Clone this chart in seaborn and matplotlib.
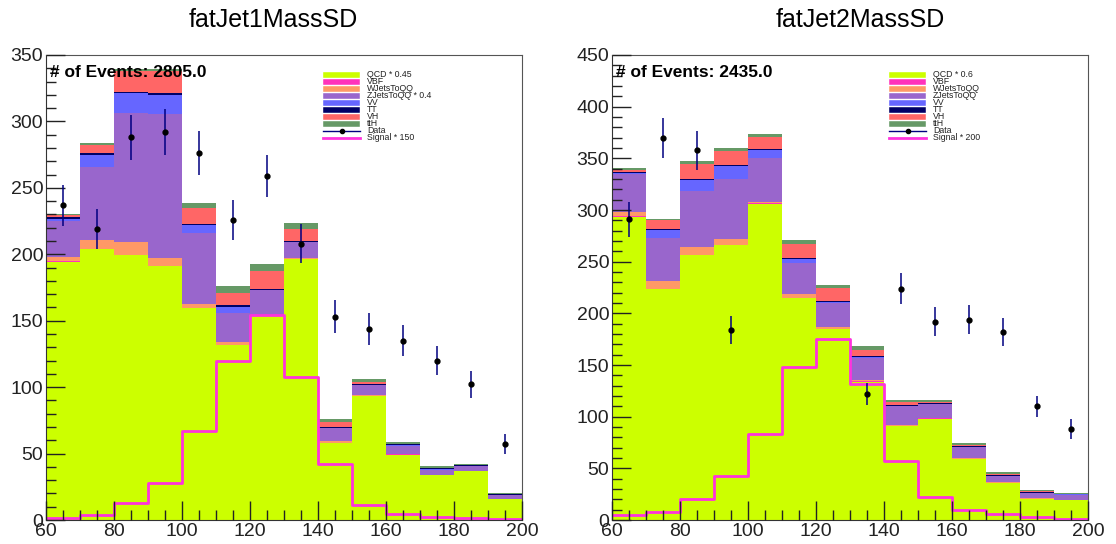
import numpy as np
import pandas as pd
import matplotlib
matplotlib.use('Agg')
import matplotlib.pyplot as plt
from matplotlib.patches import Rectangle
from matplotlib.ticker import MultipleLocator
import seaborn as sns

plt.rcParams['font.family'] = ['Liberation Sans', 'DejaVu Sans']

# bins de massa (GeV)
edges = list(range(60, 201, 10))
centers = np.array(edges[:-1]) + 5

processes = ['QCD', 'VBF', 'WJetsToQQ', 'ZJetsToQQ', 'VV', 'TT', 'VH', 'ttH']
colors = ['#ccff00', '#ff33bb', '#ff9966', '#9966cc', '#6666ff', '#000066', '#ff6666', '#669966']

# ---- fatJet1MassSD ----
j1_qcd = [194.4, 204.0, 199.5, 191.2, 159.4, 131.4, 153.3, 196.2, 57.6, 93.6, 49.3, 33.6, 36.8, 15.5]
j1_vbf = [0.3, 0.3, 0.3, 0.3, 0.3, 0.3, 0.3, 0.2, 0.2, 0.1, 0.1, 0.1, 0.1, 0.1]
j1_wjets = [3.0, 6.4, 9.7, 5.7, 3.0, 2.2, 1.0, 0.8, 2.0, 0.3, 0.3, 0.3, 0.3, 0.2]
j1_zjets = [27.5, 55.1, 96.8, 108.6, 53.5, 21.8, 18.3, 11.8, 9.3, 7.6, 6.3, 4.0, 3.3, 3.2]
j1_vv = [1.5, 9.2, 15.0, 14.2, 5.8, 5.0, 0.3, 0.3, 0.3, 0.2, 0.2, 0.1, 0.1, 0.1]
j1_tt = [1.2, 1.0, 1.2, 1.2, 1.0, 1.0, 1.0, 1.0, 0.8, 0.8, 0.8, 0.8, 0.6, 0.3]
j1_vh = [1.5, 6.5, 15.5, 16.5, 12.0, 9.5, 13.0, 9.0, 3.2, 1.0, 0.5, 0.3, 0.3, 0.2]
j1_tth = [1.2, 1.0, 1.5, 1.5, 3.8, 5.0, 5.5, 4.5, 3.0, 2.3, 1.2, 1.5, 0.8, 0.6]
j1_data = [237, 219, 288, 292, 276, 226, 259, 208, 153, 144, 135, 120, 102, 57]
j1_signal = [1.8, 3.5, 12.5, 27.9, 67.3, 119.9, 154.4, 107.6, 42.3, 11.0, 4.8, 2.3, 1.3, 1.0]

# ---- fatJet2MassSD ----
j2_qcd = [293.6, 223.4, 256.5, 266.2, 306.1, 214.5, 184.5, 134.0, 90.8, 98.2, 58.8, 35.8, 20.7, 19.1]
j2_vbf = [0.3, 0.3, 0.3, 0.3, 0.3, 0.3, 0.3, 0.2, 0.2, 0.2, 0.1, 0.1, 0.1, 0.1]
j2_wjets = [3.9, 7.8, 7.8, 5.2, 1.6, 3.9, 1.5, 1.5, 1.0, 0.6, 0.9, 0.6, 0.3, 0.3]
j2_zjets = [36.8, 41.7, 53.8, 58.4, 42.2, 30.4, 23.6, 21.3, 18.5, 12.8, 10.9, 6.1, 5.4, 5.1]
j2_vv = [1.0, 7.4, 10.6, 12.2, 8.1, 3.6, 1.0, 0.5, 0.3, 0.3, 0.2, 0.1, 0.1, 0.1]
j2_tt = [0.8, 1.0, 1.2, 1.0, 1.0, 1.0, 1.0, 1.0, 0.8, 0.8, 0.8, 0.8, 0.6, 0.5]
j2_vh = [2.3, 9.0, 14.2, 14.0, 11.3, 13.6, 12.5, 6.4, 2.5, 1.5, 0.5, 0.6, 0.4, 0.3]
j2_tth = [1.5, 1.0, 2.6, 3.0, 2.9, 3.3, 3.2, 3.9, 2.3, 2.0, 2.5, 2.8, 1.2, 1.0]
j2_data = [291, 370, 358, 184, np.nan, np.nan, np.nan, 122, 224, 192, 194, 182, 110, 88]
j2_signal = [4.6, 7.8, 20.0, 42.6, 83.0, 148.3, 175.4, 131.4, 57.2, 22.0, 10.0, 5.5, 3.3, 1.3]

j1_labels = ['QCD * 0.45', 'VBF', 'WJetsToQQ', 'ZJetsToQQ * 0.4', 'VV', 'TT', 'VH', 'ttH', 'Data', 'Signal * 150']
j2_labels = ['QCD * 0.6', 'VBF', 'WJetsToQQ', 'ZJetsToQQ', 'VV', 'TT', 'VH', 'ttH', 'Data', 'Signal * 200']

sig_color = '#ff33dd'
err_color = '#000080'


def painel(ax, stack, data, signal, ymax, labels, n_events):
    # tabela longa para o seaborn empilhar
    df = pd.concat([pd.DataFrame({'mass': centers, 'w': vals, 'process': p})
                    for p, vals in zip(processes, stack)])
    sns.histplot(data=df, x='mass', weights='w', hue='process',
                 hue_order=processes[::-1], palette=dict(zip(processes, colors)),
                 multiple='stack', bins=edges, element='step', alpha=1,
                 linewidth=0, legend=False, ax=ax)
    sns.histplot(x=centers, weights=signal, bins=edges, element='step', fill=False,
                 color=sig_color, linewidth=2, ax=ax)
    data = np.array(data, dtype=float)
    ax.errorbar(centers, data, yerr=np.sqrt(data), fmt='o', color='black', ms=3.5,
                ecolor=err_color, elinewidth=1.1, capsize=0, zorder=5)

    ax.set_xlim(60, 200)
    ax.set_ylim(0, ymax)
    ax.set_xlabel('')
    ax.set_ylabel('')
    ax.set_xticks(np.arange(60, 201, 20))
    ax.xaxis.set_minor_locator(MultipleLocator(5))
    ax.yaxis.set_major_locator(MultipleLocator(50))
    ax.yaxis.set_minor_locator(MultipleLocator(10))
    ax.tick_params(which='both', direction='in', labelsize=14, pad=2, colors='#222222')
    ax.tick_params(which='major', length=14, width=1)
    ax.tick_params(which='minor', length=7, width=1)
    for s in ['left', 'bottom']:
        ax.spines[s].set_color('#333333')
    for s in ['top', 'right']:
        ax.spines[s].set_color('#555555')
    ax.set_axisbelow(False)

    ax.text(0.008, 0.962, '# of Events: %.1f' % n_events, transform=ax.transAxes,
            fontweight='bold', fontsize=12.5, va='center', ha='left', zorder=6)

    # legenda no estilo ROOT
    y0, dy = 0.957, 0.01505
    for i, lab in enumerate(labels):
        y = y0 - i * dy
        if i < len(processes):
            ax.add_patch(Rectangle((0.582, y - 0.0055), 0.078, 0.011, transform=ax.transAxes,
                                   facecolor=colors[i], edgecolor='white', linewidth=0.3,
                                   zorder=6))
        elif lab == 'Data':
            ax.plot([0.582, 0.66], [y, y], transform=ax.transAxes, color=err_color,
                    linewidth=1, zorder=6)
            ax.plot([0.621], [y], 'o', transform=ax.transAxes, color='black', ms=3, zorder=7)
        else:
            ax.plot([0.582, 0.66], [y, y], transform=ax.transAxes, color=sig_color,
                    linewidth=2, zorder=6)
        ax.text(0.674, y, lab, transform=ax.transAxes, fontsize=6.3, va='center', ha='left',
                color='#222222', zorder=6)


fig = plt.figure(figsize=(11.16, 5.44), dpi=100)
ax1 = fig.add_axes([0.0412, 0.0441, 0.4265, 0.8548])
ax2 = fig.add_axes([0.5484, 0.0441, 0.4265, 0.8548])

painel(ax1, [j1_qcd, j1_vbf, j1_wjets, j1_zjets, j1_vv, j1_tt, j1_vh, j1_tth],
       j1_data, j1_signal, 350, j1_labels, 2805.0)
painel(ax2, [j2_qcd, j2_vbf, j2_wjets, j2_zjets, j2_vv, j2_tt, j2_vh, j2_tth],
       j2_data, j2_signal, 450, j2_labels, 2435.0)

fig.text(0.2446, 0.963, 'fatJet1MassSD', ha='center', va='center', fontsize=18)
fig.text(0.7706, 0.963, 'fatJet2MassSD', ha='center', va='center', fontsize=18)

fig.savefig('out.png', dpi=100)
